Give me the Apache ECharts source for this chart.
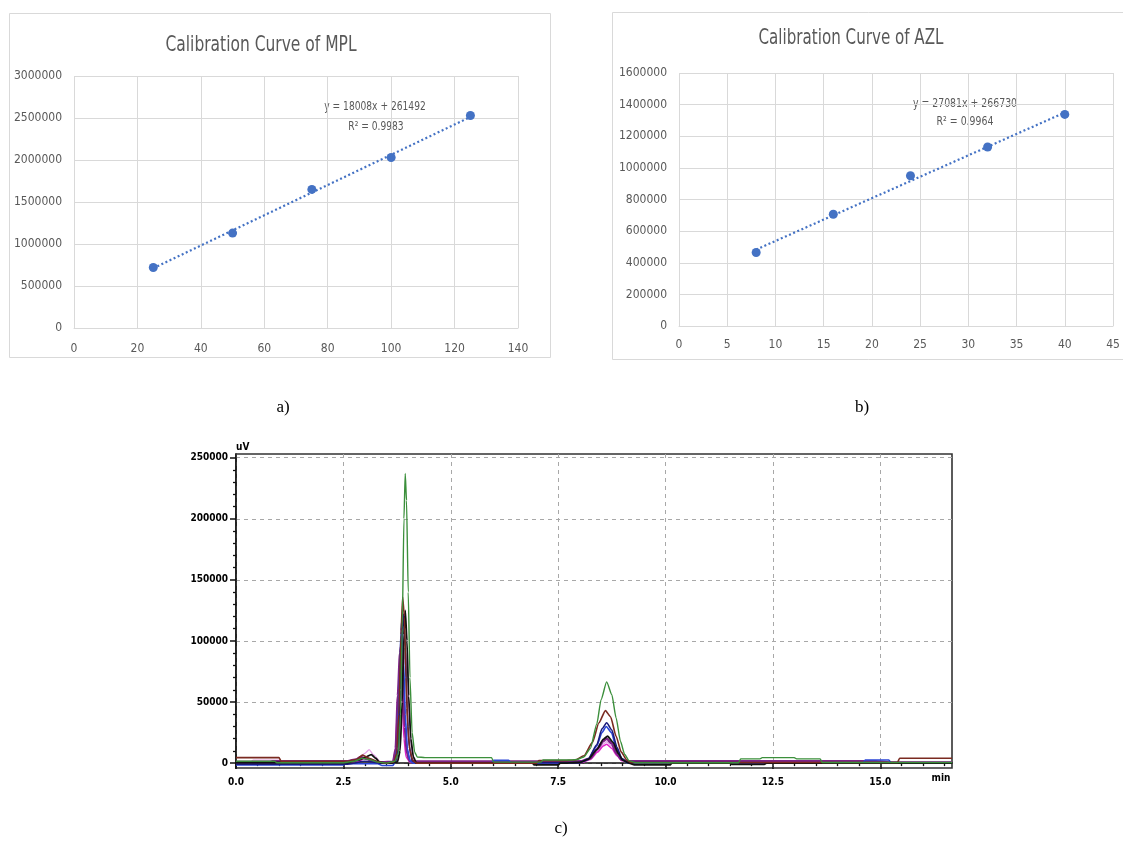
<!DOCTYPE html>
<html>
<head>
<meta charset="utf-8">
<title>Calibration curves and chromatogram</title>
<script src="https://cdn.jsdelivr.net/npm/echarts@6/dist/echarts.min.js"></script>
<style>
html, body { margin: 0; padding: 0; background: #fff; }
#main { width: 1123px; height: 846px; }
</style>
</head>
<body>
<div id="main"></div>
<script>
// a) calibration curve of MPL
const mplConc = [25, 50, 75, 100, 125];
const mplArea = [720000, 1130000, 1650000, 2030000, 2530000];
const mplTrendX = [25, 125];
const mplTrendY = [711700, 2512500]; // y = 18008x + 261492
const mplXTicks = [0, 20, 40, 60, 80, 100, 120, 140];
const mplYTicks = [0, 500000, 1000000, 1500000, 2000000, 2500000, 3000000];

// b) calibration curve of AZL
const azlConc = [8, 16, 24, 32, 40];
const azlArea = [465000, 707000, 950000, 1132000, 1338000];
const azlTrendX = [8, 40];
const azlTrendY = [483400, 1350000]; // y = 27081x + 266730
const azlXTicks = [0, 5, 10, 15, 20, 25, 30, 35, 40, 45];
const azlYTicks = [0, 200000, 400000, 600000, 800000, 1000000, 1200000, 1400000, 1600000];

// c) overlaid chromatograms (time in min, signal in uV)
const chromXTicks = [0, 2.5, 5, 7.5, 10, 12.5, 15];
const chromXMinor = [0.5, 1, 1.5, 2, 3, 3.5, 4, 4.5, 5.5, 6, 6.5, 7, 8, 8.5, 9, 9.5, 10.5, 11, 11.5, 12, 13, 13.5, 14, 14.5, 15.5, 16, 16.5];
const chromYTicks = [0, 50000, 100000, 150000, 200000, 250000];
const chromYMinor = [10000, 20000, 30000, 40000, 60000, 70000, 80000, 90000, 110000, 120000, 130000, 140000,
  160000, 170000, 180000, 190000, 210000, 220000, 230000, 240000];
const chromXEnd = 16.67;

const traceGreen = [[0,1500],[0.9,1500],[0.95,300],[2.5,300],[2.75,1500],[2.95,4000],[3.1,3000],[3.3,800],[3.5,0],
  [3.7,1500],[3.78,8000],[3.83,40000],[3.87,110000],[3.91,200000],[3.94,237000],[3.97,215000],[4.01,140000],
  [4.05,70000],[4.1,25000],[4.16,9000],[4.22,5000],[4.4,4500],[5.95,4500],[6.0,800],[7.1,800],[7.15,2500],
  [7.8,2500],[7.95,3000],[8.1,5000],[8.25,12000],[8.4,32000],[8.5,52000],[8.63,66500],[8.75,56000],[8.85,37000],
  [8.95,18000],[9.05,7000],[9.15,2000],[9.3,300],[11.7,300],[11.75,3500],[12.2,3500],[12.25,4500],[13.0,4500],
  [13.05,3500],[13.6,3500],[13.65,500],[16.67,500]];
const traceBrown = [[0,4500],[1.0,4500],[1.05,1500],[2.6,1500],[2.8,3000],[2.95,6500],[3.1,4000],[3.3,1000],[3.5,0],
  [3.68,1000],[3.74,8000],[3.79,40000],[3.84,105000],[3.88,136000],[3.92,120000],[3.96,70000],[4.0,30000],
  [4.05,10000],[4.12,2000],[4.2,0],[7.0,0],[7.05,2000],[7.6,2000],[7.9,2500],[8.1,6000],[8.3,17000],[8.45,33000],
  [8.6,43000],[8.72,38000],[8.85,22000],[8.97,9000],[9.1,2500],[9.2,500],[15.4,500],[15.45,4000],[16.67,4000]];
const traceBlack = [[0,500],[2.6,500],[2.85,2500],[3.0,4500],[3.15,7000],[3.25,4000],[3.35,500],[3.6,0],[3.76,1000],
  [3.82,10000],[3.87,50000],[3.91,105000],[3.94,125000],[3.98,100000],[4.02,55000],[4.07,20000],[4.13,5000],
  [4.2,0],[6.9,0],[6.95,-1500],[7.5,-1500],[7.55,0],[8.0,500],[8.2,3000],[8.4,11000],[8.55,19500],[8.65,22000],
  [8.78,17000],[8.9,8000],[9.0,2500],[9.15,0],[9.3,-1500],[10.1,-1500],[10.15,0],[11.5,0],[11.55,-1000],
  [12.3,-1000],[12.35,0],[16.67,0]];
const traceNavy = [[0,-800],[2.6,-800],[3.0,1500],[3.4,0],[3.72,1000],[3.78,12000],[3.83,60000],[3.87,110000],
  [3.9,122000],[3.94,95000],[3.98,45000],[4.03,14000],[4.1,2000],[4.2,0],[8.0,500],[8.2,3500],[8.4,15000],
  [8.52,28000],[8.63,33000],[8.75,27000],[8.87,13000],[8.98,4000],[9.1,500],[16.67,0]];
const traceBlue = [[0,-1500],[2.5,-1500],[2.55,-500],[3.3,-500],[3.4,-2000],[3.65,-2000],[3.7,500],[3.76,15000],
  [3.8,60000],[3.84,108000],[3.86,116000],[3.9,85000],[3.94,40000],[3.99,12000],[4.05,2000],[4.12,0],[5.95,0],
  [6.0,2200],[6.35,2200],[6.4,0],[8.0,200],[8.2,3000],[8.4,14000],[8.52,25000],[8.62,30000],[8.74,25000],
  [8.86,12000],[8.97,4000],[9.1,300],[14.6,300],[14.65,2500],[15.2,2500],[15.25,300],[16.67,300]];
const tracePurple = [[0,800],[0.8,800],[0.85,1500],[2.6,1500],[2.8,3000],[2.9,5000],[3.05,3500],[3.2,1200],[3.4,600],
  [3.66,1000],[3.72,12000],[3.77,55000],[3.82,90000],[3.85,96000],[3.89,70000],[3.93,30000],[3.98,8000],
  [4.05,1500],[4.7,1200],[7.5,1200],[8.05,1500],[8.25,4000],[8.42,12000],[8.55,18000],[8.63,20000],[8.75,16000],
  [8.86,8000],[8.97,3000],[9.1,1500],[14.9,1500],[15.2,500],[16.67,500]];
const traceMagenta = [[0,300],[2.6,300],[2.85,1500],[3.0,4000],[3.15,2500],[3.3,500],[3.65,500],[3.71,10000],
  [3.76,45000],[3.8,70000],[3.83,74000],[3.87,50000],[3.91,20000],[3.96,5000],[4.05,500],[8.05,500],[8.25,3000],
  [8.42,9000],[8.55,14000],[8.63,15500],[8.75,12000],[8.87,6000],[8.98,2000],[9.1,2000],[9.4,2000],[9.45,500],
  [16.67,500]];
const tracePink = [[0,1000],[0.35,1000],[0.4,2500],[1.0,2500],[1.05,500],[2.6,500],[2.8,2500],[3.0,8000],[3.1,11000],
  [3.2,7000],[3.35,1500],[3.5,500],[3.74,1000],[3.8,8000],[3.86,40000],[3.91,80000],[3.95,92000],[3.99,70000],
  [4.04,30000],[4.09,8000],[4.16,1000],[8.0,500],[8.2,2500],[8.4,9000],[8.53,15000],[8.63,17500],[8.75,14000],
  [8.87,7000],[8.98,2500],[9.1,500],[16.67,500]];

const chromTraces = [
  { data: tracePink, color: '#e4a2e6', width: 1.3 },
  { data: traceMagenta, color: '#e021c9', width: 1.5 },
  { data: tracePurple, color: '#7e2287', width: 2.6 },
  { data: traceBlue, color: '#2b45d6', width: 1.6 },
  { data: traceNavy, color: '#1b1b7c', width: 1.6 },
  { data: traceBlack, color: '#111111', width: 1.8 },
  { data: traceBrown, color: '#7a2a20', width: 1.6 },
  { data: traceGreen, color: '#3b8f3b', width: 1.4 },
];

const narrowFont = "'Liberation Sans Narrow', 'DejaVu Sans Condensed', sans-serif";
const textGray = '#595959';
const lineGray = '#d9d9d9';
const dotBlue = '#4472c4';

const chart = echarts.init(document.getElementById('main'));

/** Excel style value axis */
const excelAxis = (gridIndex, ticks, margin, showLine) => ({
  gridIndex: gridIndex,
  type: 'value',
  min: ticks[0],
  max: ticks[ticks.length - 1],
  interval: ticks[1] - ticks[0],
  axisLine: { show: showLine, lineStyle: { color: lineGray, width: 1 } },
  axisTick: { show: false },
  axisLabel: { color: textGray, fontSize: 12, fontFamily: narrowFont, margin: margin, formatter: (v) => String(v) },
  splitLine: { show: true, lineStyle: { color: lineGray, width: 1 } },
});

const chromLabel = { color: '#000', fontSize: 10, fontWeight: 'bold', fontFamily: narrowFont };
const chromSplit = { show: true, lineStyle: { color: '#a8a8a8', type: [4, 4], width: 1 } };

/** squeezed text, like the narrow fonts of the original */
const note = (text, x, y, size, color, sx) => ({
  type: 'text',
  x: x,
  y: y,
  scaleX: sx,
  style: { text: text, fill: color, font: size + 'px ' + narrowFont, textAlign: 'center', textVerticalAlign: 'middle' },
});

const option = {
  animation: false,
  backgroundColor: '#fff',
  grid: [
    { left: 74, top: 76, width: 444, height: 252 },
    { left: 679, top: 73, width: 434, height: 253 },
    { left: 236, top: 454, width: 716, height: 314, show: true, borderColor: '#333', borderWidth: 1.6 },
  ],
  xAxis: [
    excelAxis(0, mplXTicks, 15, true),
    excelAxis(1, azlXTicks, 13, true),
    {
      gridIndex: 2,
      type: 'value',
      min: 0,
      max: chromXEnd,
      name: 'min',
      nameLocation: 'end',
      nameGap: -11,
      nameTextStyle: Object.assign({ verticalAlign: 'top', align: 'center', padding: [10, 0, 0, 0] }, chromLabel),
      axisLine: { show: true, lineStyle: { color: '#111', width: 1.5 } },
      axisTick: { show: true, customValues: chromXTicks, length: 6, lineStyle: { color: '#111', width: 1.5 } },
      axisLabel: Object.assign({ customValues: chromXTicks, margin: 9, formatter: (v) => v.toFixed(1) }, chromLabel),
      splitLine: chromSplit,
    },
    {
      gridIndex: 2,
      type: 'value',
      position: 'bottom',
      offset: 0,
      min: 0,
      max: chromXEnd,
      axisLine: { show: false },
      axisTick: { show: true, customValues: chromXMinor, length: 3, lineStyle: { color: '#111', width: 1.3 } },
      axisLabel: { show: false },
      splitLine: { show: false },
    },
  ],
  yAxis: [
    excelAxis(0, mplYTicks, 12, false),
    excelAxis(1, azlYTicks, 12, false),
    {
      gridIndex: 2,
      type: 'value',
      position: 'left',
      min: -4000,
      max: 253000,
      name: 'uV',
      nameLocation: 'end',
      nameGap: 2,
      nameTextStyle: Object.assign({ align: 'left' }, chromLabel),
      axisLine: { show: true, lineStyle: { color: '#111', width: 1.5 } },
      axisTick: { show: true, customValues: chromYTicks, length: 6, lineStyle: { color: '#111', width: 1.5 } },
      axisLabel: Object.assign({ customValues: chromYTicks, margin: 8, formatter: (v) => String(v) }, chromLabel),
      splitLine: chromSplit,
    },
    {
      gridIndex: 2,
      type: 'value',
      position: 'left',
      offset: 0,
      min: -4000,
      max: 253000,
      axisLine: { show: false },
      axisTick: { show: true, customValues: chromYMinor, length: 3, lineStyle: { color: '#111', width: 1.3 } },
      axisLabel: { show: false },
      splitLine: { show: false },
    },
  ],
  series: [
    {
      type: 'line',
      xAxisIndex: 0,
      yAxisIndex: 0,
      data: mplTrendX.map((x, i) => [x, mplTrendY[i]]),
      symbol: 'none',
      lineStyle: { color: dotBlue, width: 2.2, type: [2, 2.5] },
      z: 2,
    },
    {
      type: 'scatter',
      xAxisIndex: 0,
      yAxisIndex: 0,
      data: mplConc.map((x, i) => [x, mplArea[i]]),
      symbolSize: 9,
      itemStyle: { color: dotBlue, opacity: 1 },
      z: 3,
    },
    {
      type: 'line',
      xAxisIndex: 1,
      yAxisIndex: 1,
      data: azlTrendX.map((x, i) => [x, azlTrendY[i]]),
      symbol: 'none',
      lineStyle: { color: dotBlue, width: 2.2, type: [2, 2.5] },
      z: 2,
    },
    {
      type: 'scatter',
      xAxisIndex: 1,
      yAxisIndex: 1,
      data: azlConc.map((x, i) => [x, azlArea[i]]),
      symbolSize: 9,
      itemStyle: { color: dotBlue, opacity: 1 },
      z: 3,
    },
  ].concat(chromTraces.map((t) => ({
    type: 'line',
    xAxisIndex: 2,
    yAxisIndex: 2,
    data: t.data,
    symbol: 'none',
    smooth: 0.2,
    smoothMonotone: 'x',
    clip: true,
    lineStyle: { color: t.color, width: t.width },
  }))),
  graphic: [
    // panel frames
    { type: 'rect', shape: { x: 9.5, y: 13.5, width: 541, height: 344 }, style: { fill: 'none', stroke: lineGray, lineWidth: 1 }, z: -10 },
    { type: 'rect', shape: { x: 612.5, y: 12.5, width: 530, height: 347 }, style: { fill: 'none', stroke: lineGray, lineWidth: 1 }, z: -10 },
    // titles
    note('Calibration Curve of MPL', 261, 46, 21, textGray, 0.82),
    note('Calibration Curve of AZL', 851, 39, 21, textGray, 0.8),
    // trendline equations
    note('y = 18008x + 261492', 375, 107, 13, textGray, 0.78),
    note('R² = 0.9983', 376, 127, 13, textGray, 0.78),
    note('y = 27081x + 266730', 965, 104, 13, textGray, 0.8),
    note('R² = 0.9964', 965, 122, 13, textGray, 0.8),
    // panel captions
    { type: 'text', x: 283, y: 408, style: { text: 'a)', fill: '#000', font: '17px "Liberation Serif", serif', textAlign: 'center', textVerticalAlign: 'middle' } },
    { type: 'text', x: 862, y: 408, style: { text: 'b)', fill: '#000', font: '17px "Liberation Serif", serif', textAlign: 'center', textVerticalAlign: 'middle' } },
    { type: 'text', x: 561, y: 829, style: { text: 'c)', fill: '#000', font: '17px "Liberation Serif", serif', textAlign: 'center', textVerticalAlign: 'middle' } },
  ],
};

chart.setOption(option);
window.addEventListener('resize', function () {
  chart.resize();
});
</script>
</body>
</html>
